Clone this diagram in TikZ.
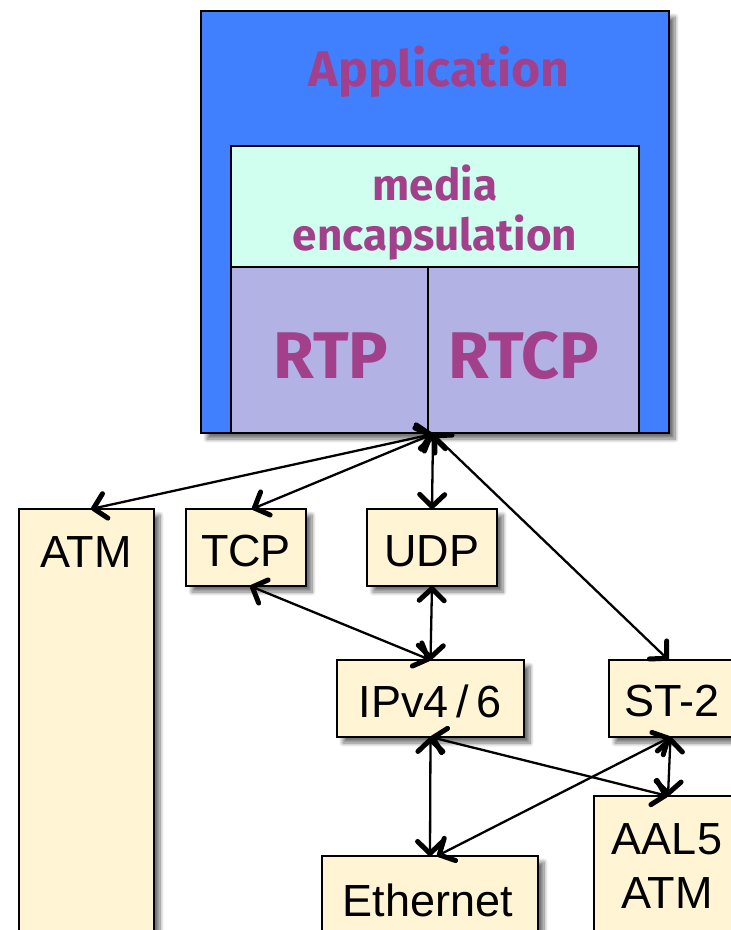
\documentclass[tikz,border=0pt]{standalone}
\usepackage{fontspec}
\setmainfont{Liberation Sans}
\newfontfamily\fira{Fira Sans}
\usetikzlibrary{arrows.meta,shadows.blur}
\definecolor{appblue}{RGB}{64,128,255}
\definecolor{mint}{RGB}{208,255,240}
\definecolor{lav}{RGB}{178,178,228}
\definecolor{purp}{RGB}{163,64,140}
\definecolor{cream}{RGB}{255,244,212}
\tikzset{
  box/.style={draw=black, line width=1.5pt, outer sep=0pt, inner sep=0pt, rectangle},
  shad/.style={blur shadow={shadow xshift=6pt, shadow yshift=-6pt, shadow blur steps=8, shadow blur radius=4pt, shadow opacity=55}},
  lowbox/.style={box, shad, fill=cream},
  lowtxt/.style={font=\fontsize{45}{54}\selectfont, inner sep=0pt, align=center},
  bigtxt/.style={font=\fira\bfseries\fontsize{#1}{#1}\selectfont, text=purp, inner sep=0pt, align=center},
  link/.style={line width=2.3pt, {Straight Barb[length=12pt,width=25pt,line width=5pt,round]}-{Straight Barb[length=12pt,width=25pt,line width=5pt,round]}}
}
\begin{document}
\begin{tikzpicture}[x=1pt,y=-1pt]
\useasboundingbox (0,0) rectangle (731,930);
% application stack
\node[box, shad, fill=appblue, minimum width=468pt, minimum height=422pt, anchor=north west] (app) at (201,11) {};
\node[bigtxt=50] (apptxt) at (439,72) {Application};
\node[box, fill=mint, minimum width=408pt, minimum height=121pt, anchor=north west] (media) at (231,146) {};
\node[bigtxt=44] (mediatxt1) at (435,183) {media};
\node[bigtxt=44] (mediatxt2) at (435,238) {encapsulation};
\node[box, fill=lav, minimum width=197pt, minimum height=166pt, anchor=north west] (rtp) at (231,267) {};
\node[box, fill=lav, minimum width=211pt, minimum height=166pt, anchor=north west] (rtcp) at (428,267) {};
\node[bigtxt=66] (rtptxt) at (331,356) {RTP};
\node[bigtxt=66] (rtcptxt) at (524,356) {RTCP};
\coordinate (hub) at (433,434);
% lower boxes
\node[lowbox, minimum width=135pt, minimum height=450pt, anchor=north west] (atm) at (19,509) {};
\node[lowtxt] (atmtxt) at (86,552) {ATM};
\node[lowbox, minimum width=120pt, minimum height=77pt, anchor=north west] (tcp) at (186,509) {};
\node[lowtxt] (tcptxt) at (246,551) {TCP};
\node[lowbox, minimum width=130pt, minimum height=77pt, anchor=north west] (udp) at (367,509) {};
\node[lowtxt] (udptxt) at (432,551) {UDP};
\node[lowbox, minimum width=187pt, minimum height=77pt, anchor=north west] (ipv) at (337,660) {};
\node[lowtxt] (ipvtxt) at (430,701) {IPv4\,/\,6};
\node[lowbox, minimum width=131pt, minimum height=77pt, anchor=north west] (st2) at (609,660) {};
\node[lowtxt] (st2txt) at (672,701) {ST-2};
\node[lowbox, minimum width=216pt, minimum height=100pt, anchor=north west] (eth) at (322,856) {};
\node[lowtxt] (ethtxt) at (428,900) {Ethernet};
\node[lowbox, minimum width=150pt, minimum height=170pt, anchor=north west] (aal) at (594,796) {};
\node[lowtxt] (aaltxt) at (667,866) {\fontsize{45}{53}\selectfont AAL5\\ATM};
% connectors
\draw[link] (hub) -- ([xshift=4.5pt]atm.north);
\draw[link] (hub) -- ([xshift=6pt]tcp.north);
\draw[link] (hub) -- (udp.north);
\draw[link] (hub) -- ([xshift=-6pt]st2.north);
\draw[link] ([xshift=4pt]tcp.south) -- (ipv.north);
\draw[link] (udp.south) -- (ipv.north);
\draw[link] (ipv.south) -- (eth.north);
\draw[link] (ipv.south) -- ([xshift=-1pt]aal.north);
\draw[link] ([xshift=-4pt]st2.south) -- ([xshift=7pt]eth.north);
\draw[link] ([xshift=-4pt]st2.south) -- ([xshift=-1pt]aal.north);
\end{tikzpicture}
\end{document}
